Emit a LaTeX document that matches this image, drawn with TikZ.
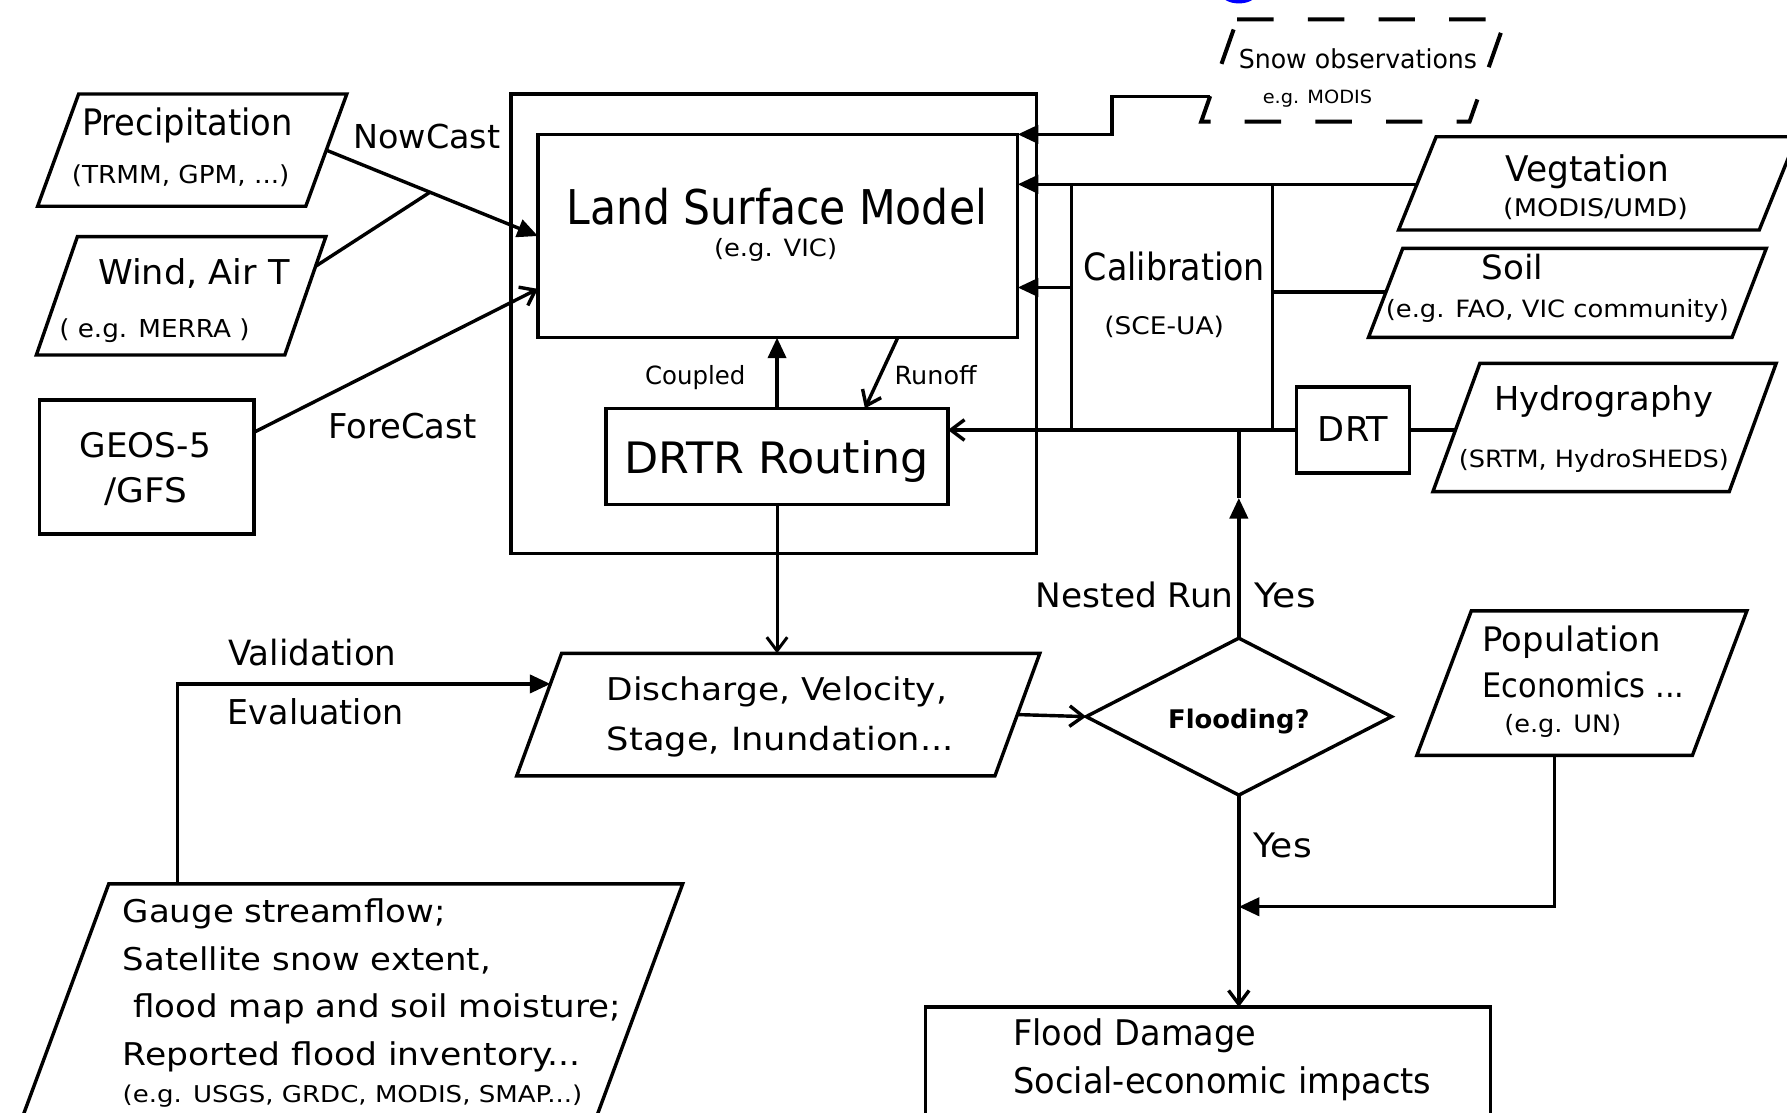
\documentclass[tikz,border=0pt]{standalone}
\usepackage{fontspec}
\setmainfont{DejaVu Sans}
\usepackage{graphicx}
\usetikzlibrary{arrows.meta,calc,shapes.geometric}
\newcommand{\tf}[3]{\resizebox{#1pt}{\height}{\fontsize{#2}{#2}\selectfont #3}}
\newcommand{\para}[7][]{%
  \node[rectangle,inner sep=0,outer sep=0,minimum width=#5pt,minimum height=#6pt] (#2) at (#3,#4) {};
  \coordinate (#2-tl) at ($(#2.north west)+(#7,0)$);
  \coordinate (#2-tr) at ($(#2.north east)+(#7,0)$);
  \coordinate (#2-br) at ($(#2.south east)+(-#7,0)$);
  \coordinate (#2-bl) at ($(#2.south west)+(-#7,0)$);
  \draw[ln,#1] (#2-tl) -- (#2-tr) -- (#2-br) -- (#2-bl) -- cycle;
}
\begin{document}
\begin{tikzpicture}[x=1pt,y=-1pt,
  ln/.style={line width=3pt},
  bx/.style={draw,rectangle,line width=3pt,inner sep=0,outer sep=0},
  tx/.style={inner sep=0,outer sep=0,anchor=base},
  txl/.style={inner sep=0,outer sep=0,anchor=base west},
  fa/.style={-{Triangle[length=18pt,width=16pt]}},
  oa/.style={-{Straight Barb[length=12pt,width=18pt]}}]
\useasboundingbox (0,0) rectangle (1568,976);
\clip (0,0) rectangle (1568,976);
\fill[white] (0,0) rectangle (1568,976);
\fill[blue] (1087,-5) ellipse [x radius=15pt, y radius=8pt];

% parallelograms
\para{precip}{168.65}{131.75}{235.3}{98.5}{18}
\para{wind}{158.9}{259.6}{218}{103.8}{18}
\para[dash pattern=on 32pt off 30pt,line width=3.5pt]{snow}{1187.5}{61.9}{235.5}{89.8}{15.8}
\para{veg}{1401.9}{160.9}{316.5}{81.8}{16.5}
\para{soil}{1375.3}{257}{319}{78}{15}
\para{hydro}{1407.9}{375.1}{260}{112.6}{20.6}
\para{disc}{682.9}{627}{419.6}{107.5}{19.7}
\para{pop}{1388}{599.4}{241.8}{126.8}{23.9}
\para{gauge}{305.7}{887.8}{503.6}{224.4}{41.5}

% rectangles
\node[bx,minimum width=461.2pt,minimum height=403pt] (outer) at (679,284) {};
\node[bx,minimum width=421pt,minimum height=178.4pt] (lsm) at (682.5,207.1) {};
\node[bx,minimum width=300pt,minimum height=84.2pt] (drtr) at (681.8,400.4) {};
\node[bx,minimum width=176.2pt,minimum height=215.6pt] (calib) at (1028.4,269.5) {};
\node[bx,minimum width=99pt,minimum height=75.2pt] (drt) at (1187.3,377.3) {};
\node[bx,minimum width=188.5pt,minimum height=117.6pt] (geos) at (128.75,409.8) {};
\node[bx,minimum width=496pt,minimum height=116.4pt] (fdmg) at (1060,941.8) {};
\node[draw,diamond,line width=3pt,inner sep=0,outer sep=0,minimum width=268pt,minimum height=137.7pt] (flood) at (1087,628.8) {};

% connectors
\draw[ln,fa] (precip.east) -- (lsm.west);
\coordinate (wout) at ($(wind-tr)!0.25!(wind-br)$);
\coordinate (jn) at ($(precip.east)!0.49!(lsm.west)$);
\draw[ln] (wout) -- (jn);
\coordinate (gout) at ($(geos.north east)!0.24!(geos.south east)$);
\coordinate (lin) at ($(lsm.north west)!0.76!(lsm.south west)$);
\draw[ln,oa] (gout) -- (lin);
\coordinate (sin) at ($(snow-tl)!0.755!(snow-bl)$);
\draw[ln,fa] (sin) -- ++(-86,0) |- (lsm.north east);
\coordinate (vin) at ($(veg-tl)!0.51!(veg-bl)$);
\draw[ln,fa] (vin) -- (vin -| lsm.east);
\coordinate (cout) at ($(calib.north west)!0.42!(calib.south west)$);
\draw[ln,fa] (cout) -- (cout -| lsm.east);
\coordinate (sout) at ($(soil-tl)!0.49!(soil-bl)$);
\draw[ln] (sout) -- (sout -| calib.east);
\draw[ln,oa] (drt.west) -- (drt.west -| drtr.east);
\coordinate (hout) at ($(hydro-tl)!0.52!(hydro-bl)$);
\draw[ln] (drt.east) -- (drt.east -| hout);
\draw[ln,fa] (drtr.north) -- (drtr.north |- lsm.south);
\coordinate (ro1) at ($(lsm.south west)!0.75!(lsm.south east)$);
\coordinate (ro2) at ($(drtr.north west)!0.757!(drtr.north east)$);
\draw[ln,oa] (ro1) -- (ro2);
\draw[line width=2.6pt,oa] (drtr.south) -- (drtr.south |- disc.north);
\coordinate (gtop) at ($(gauge-tl)!0.12!(gauge-tr)$);
\coordinate (vin2) at ($(disc-tl)!0.25!(disc-bl)$);
\draw[line width=2.8pt,fa] (gtop) |- (vin2);
\draw[ln,oa] (disc.east) -- (flood.west);
\coordinate (njn) at (flood.north |- drt.west);
\coordinate (ntip) at ($(flood.north)!0.673!(njn)$);
\draw[ln,fa] (flood.north) -- (ntip);
\draw[ln] (ntip) -- (njn);
\draw[ln,oa] (flood.south) -- (flood.south |- fdmg.north);
\coordinate (pout) at ($(pop-bl)!0.5!(pop-br)$);
\coordinate (pj) at ($(flood.south)!0.527!(flood.south |- fdmg.north)$);
\draw[ln,fa] (pout) |- (pj);

% texts
\node[tx] (tPrec) at (164.5,118.5) {\tf{185}{32}{Precipitation}};
\node[tx] (tPrec2) at (158.5,161.4) {\tf{191}{21.7}{(TRMM, GPM, ...)}};
\node[tx] (tWind) at (170,250) {\tf{168}{30}{Wind, Air T}};
\node[tx] (tWind2) at (135.5,296) {\tf{167}{21.7}{( e.g. MERRA )}};
\node[tx] (tGeos1) at (127.5,401.3) {\tf{115}{29.7}{GEOS-5}};
\node[tx] (tGeos2) at (128.3,441) {\tf{72.5}{29.7}{/GFS}};
\node[tx] (tNow) at (374.5,130.7) {\tf{129}{28.9}{NowCast}};
\node[tx] (tFore) at (353,384.6) {\tf{130}{30}{ForeCast}};
\node[tx] (tLsm) at (681.5,197.4) {\tf{369}{42}{Land Surface Model}};
\node[tx] (tLsm2) at (680.5,225.2) {\tf{108}{20.9}{(e.g. VIC)}};
\node[tx] (tCoup) at (610,337.8) {\tf{88}{22}{Coupled}};
\node[tx] (tRun) at (821,337.8) {\tf{72}{22}{Runoff}};
\node[tx] (tDrtr) at (681.5,415.3) {\tf{267}{38}{DRTR Routing}};
\node[tx] (tCal) at (1030.5,246.3) {\tf{159}{33}{Calibration}};
\node[tx] (tCal2) at (1021.5,293.3) {\tf{105}{21.3}{(SCE-UA)}};
\node[tx] (tSnow) at (1191.5,60) {\tf{209}{22.9}{Snow observations}};
\node[tx] (tSnow2) at (1156,90.7) {\tf{96}{16}{e.g. MODIS}};
\node[tx] (tVeg) at (1393,159.4) {\tf{144}{31}{Vegtation}};
\node[tx] (tVeg2) at (1400,190.1) {\tf{162}{21.3}{(MODIS/UMD)}};
\node[tx] (tSoil) at (1327,245) {\tf{54}{29.3}{Soil}};
\node[tx] (tSoil2) at (1366.5,278.4) {\tf{301}{20.9}{(e.g. FAO, VIC community)}};
\node[tx] (tDrt) at (1187.3,387.6) {\tf{61.7}{30}{DRT}};
\node[tx] (tHyd) at (1407,359.8) {\tf{191.8}{28.9}{Hydrography}};
\node[tx] (tHyd2) at (1398.5,410) {\tf{237}{20.9}{(SRTM, HydroSHEDS)}};
\node[tx] (tDis1) at (681.7,614.9) {\tf{298.6}{27.5}{Discharge, Velocity,}};
\node[txl] (tDis2) at (532.4,658.2) {\tf{304.6}{28}{Stage, Inundation...}};
\node[tx] (tVal) at (274,584) {\tf{147.7}{30.5}{Validation}};
\node[txl] (tEva) at (200,636) {\tf{154}{30}{Evaluation}};
\node[txl] (g1) at (107.7,809.6) {\tf{283.2}{27.5}{Gauge streamflow;}};
\node[txl] (g2) at (107.7,851.3) {\tf{323.1}{27.5}{Satellite snow extent,}};
\node[txl] (g3) at (117,893) {\tf{427.7}{27.5}{flood map and soil moisture;}};
\node[txl] (g4) at (107.7,934.7) {\tf{401.9}{27.5}{Reported flood inventory...}};
\node[txl] (g5) at (107.7,967.2) {\tf{403.2}{20.3}{(e.g. USGS, GRDC, MODIS, SMAP...)}};
\node[tx] (tFl) at (1087,639) {\tf{124}{22.5}{\bfseries Flooding?}};
\node[tx] (tNest) at (995.7,533) {\tf{173.7}{29.6}{Nested Run}};
\node[tx] (tYes1) at (1127.8,533) {\tf{53.5}{29.6}{Yes}};
\node[tx] (tYes2) at (1125.5,752.4) {\tf{51}{29.6}{Yes}};
\node[txl] (tPop1) at (1301,571.6) {\tf{156}{29.6}{Population}};
\node[txl] (tPop2) at (1301,611.8) {\tf{177}{29.6}{Economics ...}};
\node[tx] (tPop3) at (1371.3,642.7) {\tf{102.6}{21}{(e.g. UN)}};
\node[txl] (tFd1) at (889,917) {\tf{213.4}{31}{Flood Damage}};
\node[txl] (tFd2) at (889,959.5) {\tf{367}{31}{Social-economic impacts}};
\end{tikzpicture}
\end{document}
